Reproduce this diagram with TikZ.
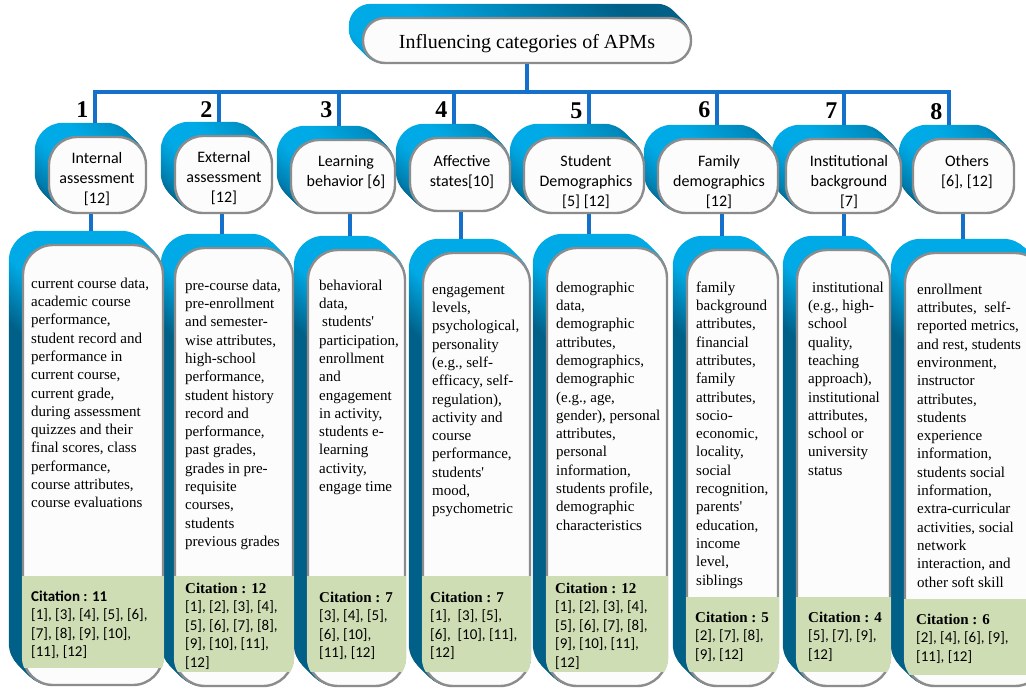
\documentclass[tikz,border=0pt]{standalone}
\usepackage{fontspec}
\setmainfont{Liberation Serif}
\newfontfamily\calfont{Carlito}
\usetikzlibrary{calc}
\definecolor{bbright}{RGB}{0,170,230}
\definecolor{bdark}{RGB}{0,96,136}
\definecolor{connblue}{RGB}{20,112,200}
\definecolor{bordgray}{RGB}{140,140,140}
\definecolor{frontfill}{RGB}{252,252,252}
\definecolor{citegreen}{RGB}{207,221,181}
\pgfdeclareverticalshading{hdrshade}{100bp}{color(0bp)=(bdark); color(42bp)=(bdark); color(75bp)=(bbright); color(100bp)=(bbright)}
\pgfdeclareverticalshading{bodyshade}{100bp}{color(0bp)=(bdark); color(67bp)=(bdark); color(75bp)=(bbright); color(100bp)=(bbright)}
\pgfdeclarelayer{back}
\pgfsetlayers{back,main}
\tikzset{
  front/.style={draw=bordgray, line width=2.4pt, fill=frontfill, inner sep=0pt},
  hdrbox/.style={front, rounded corners=28pt},
  bodybox/.style={front, rounded corners=30pt},
  titlebox/.style={front, rounded corners=22pt},
  conn/.style={draw=connblue, line width=3.2pt},
  bodytext/.style={anchor=north west, inner sep=0pt, align=left, font=\fontsize{15}{18.3}\selectfont},
  citetext/.style={anchor=north west, inner sep=0pt, align=left, font=\calfont\fontsize{15}{18.5}\selectfont},
  hdrtext/.style={anchor=north, inner sep=0pt, align=center, font=\calfont\fontsize{16}{20}\selectfont},
  numtext/.style={anchor=east, inner sep=0pt, font=\fontsize{24}{24}\selectfont\bfseries},
}
\newcommand{\ctitle}[1]{{\rmfamily\bfseries #1}}
\newcommand{\sq}{\textquotesingle}
\newcommand{\extrude}[4]{%
  \foreach \k in {13,12,...,1}{%
    \shade[shading=#2, shading angle=#4, rounded corners=#3]
      ($(#1.north west)+(-\k,-\k)$) rectangle ($(#1.south east)+(-\k,-\k)$);
  }%
}
\begin{document}
\begin{tikzpicture}[x=1pt,y=-1pt]
\useasboundingbox (0,0) rectangle (1026,689);

% ---------- front boxes ----------
\node[titlebox, minimum width=328pt, minimum height=45pt] (title) at (527,40.5) {};

\node[hdrbox, minimum width=97pt,  minimum height=76pt] (h1) at (97.5,175) {};
\node[hdrbox, minimum width=97pt,  minimum height=77pt] (h2) at (223.5,174.5) {};
\node[hdrbox, minimum width=104pt, minimum height=73pt] (h3) at (343,176.5) {};
\node[hdrbox, minimum width=100pt, minimum height=73pt] (h4) at (460,174.5) {};
\node[hdrbox, minimum width=120pt, minimum height=75pt] (h5) at (584,175.5) {};
\node[hdrbox, minimum width=120pt, minimum height=74pt] (h6) at (718,176) {};
\node[hdrbox, minimum width=115pt, minimum height=74pt] (h7) at (843.5,176) {};
\node[hdrbox, minimum width=101pt, minimum height=74pt] (h8) at (963.5,176) {};

\node[bodybox, minimum width=140pt, minimum height=440pt] (b1) at (93,465) {};
\node[bodybox, minimum width=118pt, minimum height=438pt] (b2) at (234,467) {};
\node[bodybox, minimum width=97pt,  minimum height=436pt] (b3) at (356.5,468) {};
\node[bodybox, minimum width=107pt, minimum height=433pt] (b4) at (476.5,469.5) {};
\node[bodybox, minimum width=120pt, minimum height=438pt] (b5) at (607,467) {};
\node[bodybox, minimum width=91pt,  minimum height=436pt] (b6) at (732.5,468) {};
\node[bodybox, minimum width=93pt,  minimum height=436pt] (b7) at (843.5,468) {};
\node[bodybox, minimum width=140pt, minimum height=433pt] (b8) at (975,469.5) {};

% ---------- extrusions (behind) ----------
\begin{pgfonlayer}{back}
  \fill[white] (0,0) rectangle (1026,689);
  \extrude{title}{hdrshade}{22pt}{25}
  \foreach \i in {1,...,8}{\extrude{h\i}{hdrshade}{28pt}{25}}
  \foreach \i in {1,...,8}{\extrude{b\i}{bodyshade}{30pt}{8}}
\end{pgfonlayer}

% ---------- citation areas ----------
\foreach \i/\ya/\yb in {1/576/668, 2/576/672, 3/576/672, 4/576/672, 5/576/672, 6/597/672, 7/597/672, 8/599/675}{
  \begin{scope}
    \clip[rounded corners=30pt] (b\i.north west) rectangle (b\i.south east);
    \fill[citegreen] (b\i.west |- 0,\ya) rectangle (b\i.east |- 0,\yb);
  \end{scope}
}

% ---------- connectors ----------
\coordinate (bar) at (title.south |- 0,92);
\draw[conn] (title.south) -- (bar);
\draw[conn] ($(h1.north)+(-2.5,-13)$) |- (bar) -| ($(h8.north)+(-14.5,-13)$);
\foreach \i/\dt in {2/-4.5, 3/-4, 4/-6, 5/5, 6/-1, 7/0.5}{
  \draw[conn] ($(h\i.north |- bar)+(\dt,0)$) -- ($(h\i.north)+(\dt,-13)$);
}
\foreach \i/\db in {1/-6.5, 2/-1.5, 3/7, 4/1, 5/5, 6/4, 7/0.5, 8/-0.5}{
  \draw[conn] ($(h\i.south)+(\db,0)$) -- ($(h\i.south |- b\i.north)+(\db,-13)$);
}

% ---------- texts ----------
\node[font=\fontsize{20}{24}\selectfont, inner sep=0pt, anchor=base] (titletext) at (527,48) {Influencing categories of APMs};

\node[numtext] (n1) at (88.5,110) {1};
\node[numtext] (n2) at (212.5,110) {2};
\node[numtext] (n3) at (332.5,110) {3};
\node[numtext] (n4) at (447.5,110) {4};
\node[numtext] (n5) at (582.5,111) {5};
\node[numtext] (n6) at (710.5,110) {6};
\node[numtext] (n7) at (837.5,111) {7};
\node[numtext] (n8) at (942.5,112) {8};

\node[hdrtext] (ht1) at (97,149) {\rule{0pt}{14pt}Internal\\assessment\\{}[12]};
\node[hdrtext] (ht2) at (224,148) {\rule{0pt}{14pt}External\\assessment\\{}[12]};
\node[hdrtext] (ht3) at (346,152) {\rule{0pt}{14pt}Learning\\behavior [6]};
\node[hdrtext] (ht4) at (462,152) {\rule{0pt}{14pt}Affective\\states[10]};
\node[hdrtext] (ht5) at (586,152) {\rule{0pt}{14pt}Student\\Demographics\\{}[5] [12]};
\node[hdrtext] (ht6) at (719,152.5) {\rule{0pt}{14pt}Family\\demographics\\{}[12]};
\node[hdrtext] (ht7) at (849,152.5) {\rule{0pt}{14pt}Institutional\\background\\{}[7]};
\node[hdrtext] (ht8) at (967,152.5) {\rule{0pt}{14pt}Others\\{}[6], [12]};

\node[bodytext] (t1) at (31,274) {\rule{0pt}{14pt}current course data,\\academic course\\performance,\\student record and\\performance in\\current course,\\current grade,\\during assessment\\quizzes and their\\final scores, class\\performance,\\course attributes,\\course evaluations};
\node[bodytext] (t2) at (185,276) {\rule{0pt}{14pt}pre-course data,\\pre-enrollment\\and semester-\\wise attributes,\\high-school\\performance,\\student history\\record and\\performance,\\past grades,\\grades in pre-\\requisite\\courses,\\students\\previous grades};
\node[bodytext] (t3) at (319,276) {\rule{0pt}{14pt}behavioral\\data,\\\hspace*{3pt}students\sq\\participation,\\enrollment\\and\\engagement\\in activity,\\students e-\\learning\\activity,\\engage time};
\node[bodytext] (t4) at (432,280) {\rule{0pt}{14pt}engagement\\levels,\\psychological,\\personality\\(e.g., self-\\efficacy, self-\\regulation),\\activity and\\course\\performance,\\students\sq\\mood,\\psychometric};
\node[bodytext] (t5) at (556,278) {\rule{0pt}{14pt}demographic\\data,\\demographic\\attributes,\\demographics,\\demographic\\(e.g., age,\\gender), personal\\attributes,\\personal\\information,\\students profile,\\demographic\\characteristics};
\node[bodytext] (t6) at (696,278) {\rule{0pt}{14pt}family\\background\\attributes,\\financial\\attributes,\\family\\attributes,\\socio-\\economic,\\locality,\\social\\recognition,\\parents\sq\\education,\\income\\level,\\siblings};
\node[bodytext] (t7) at (808,278) {\rule{0pt}{14pt}\hspace*{4pt}institutional\\(e.g., high-\\school\\quality,\\teaching\\approach),\\institutional\\attributes,\\school or\\university\\status};
\node[bodytext] (t8) at (917,280) {\rule{0pt}{14pt}enrollment\\attributes,~ self-\\reported metrics,\\and rest, students\\environment,\\instructor\\attributes,\\students\\experience\\information,\\students social\\information,\\extra-curricular\\activities, social\\network\\interaction, and\\other soft skill};

\node[citetext] (c1) at (31,587) {\rule{0pt}{14pt}{\bfseries Citation : 11}\\{}[1], [3], [4], [5], [6],\\{}[7], [8], [9], [10],\\{}[11], [12]};
\node[citetext] (c2) at (185,579) {\rule{0pt}{14pt}\ctitle{Citation : 12}\\{}[1], [2], [3], [4],\\{}[5], [6], [7], [8],\\{}[9], [10], [11],\\{}[12]};
\node[citetext] (c3) at (319,588) {\rule{0pt}{14pt}\ctitle{Citation : 7}\\{}[3], [4], [5],\\{}[6], [10],\\{}[11], [12]};
\node[citetext] (c4) at (430,588) {\rule{0pt}{14pt}\ctitle{Citation : 7}\\{}[1],~ [3], [5],\\{}[6],~ [10], [11],\\{}[12]};
\node[citetext] (c5) at (555,579) {\rule{0pt}{14pt}\ctitle{Citation : 12}\\{}[1], [2], [3], [4],\\{}[5], [6], [7], [8],\\{}[9], [10], [11],\\{}[12]};
\node[citetext] (c6) at (695,608) {\rule{0pt}{14pt}\ctitle{Citation : 5}\\{}[2], [7], [8],\\{}[9], [12]};
\node[citetext] (c7) at (808,608) {\rule{0pt}{14pt}\ctitle{Citation : 4}\\{}[5], [7], [9],\\{}[12]};
\node[citetext] (c8) at (916,610) {\rule{0pt}{14pt}\ctitle{Citation : 6}\\{}[2], [4], [6], [9],\\{}[11], [12]};
\end{tikzpicture}
\end{document}
